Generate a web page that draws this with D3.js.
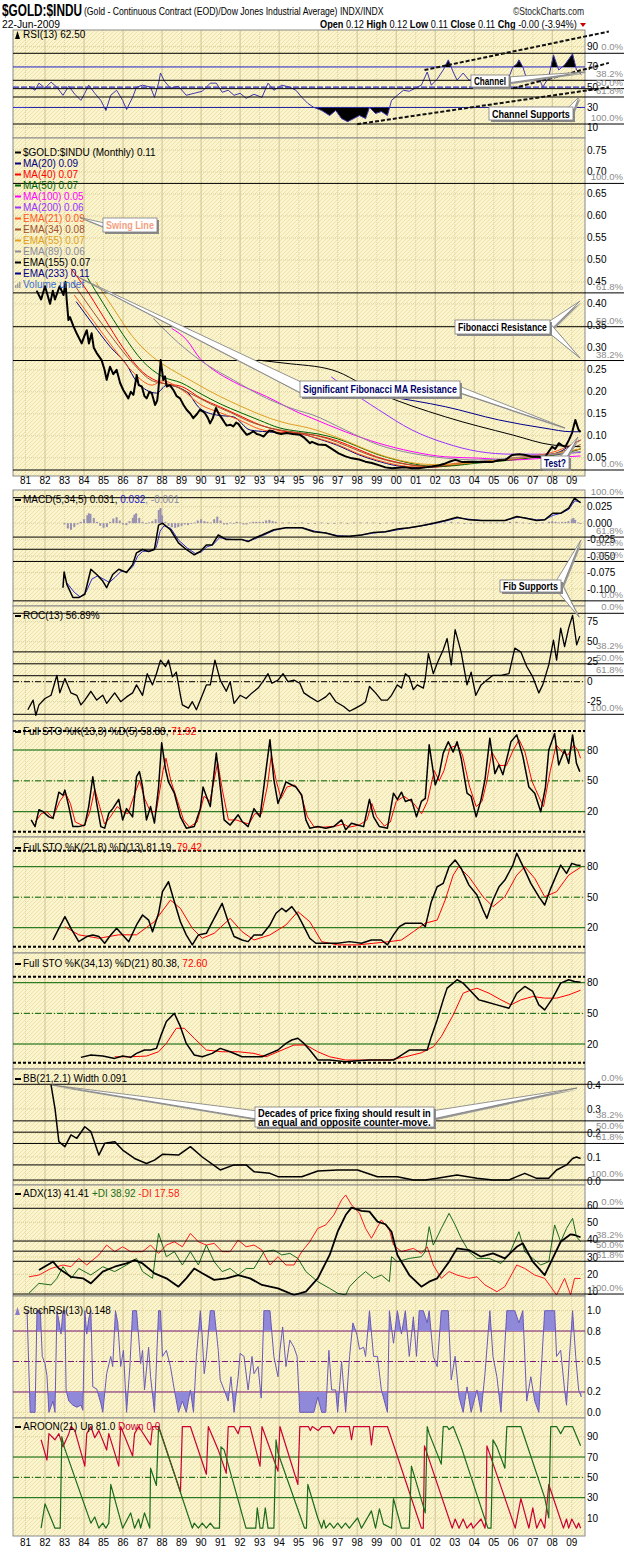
<!DOCTYPE html>
<html><head><meta charset="utf-8">
<script src="https://cdn.jsdelivr.net/npm/d3@7"></script>
<style>body{margin:0;background:#fff}svg{display:block}text{font-family:"Liberation Sans",Arial,sans-serif}</style>
</head><body><svg id="c" width="624" height="1552"></svg>
<script>
// ---------------- DATA ----------------
const yearTicks = [1981,1982,1983,1984,1985,1986,1987,1988,1989,1990,1991,1992,1993,1994,1995,1996,1997,1998,1999,2000,2001,2002,2003,2004,2005,2006,2007,2008,2009];
const yearLabels = ["81","82","83","84","85","86","87","88","89","90","91","92","93","94","95","96","97","98","99","00","01","02","03","04","05","06","07","08","09"];

const rsi13 = [[1981.18,51],[1981.49,47],[1981.69,54],[1982.0,49],[1982.31,55],[1982.61,50],[1982.92,42],[1983.22,51],[1983.53,43],[1983.84,37],[1984.04,44],[1984.24,52],[1984.55,44],[1984.86,37],[1985.12,27],[1985.37,42],[1985.67,47],[1985.98,37],[1986.18,28],[1986.49,40],[1986.69,50],[1987.0,52],[1987.41,50],[1987.61,40],[1987.82,54],[1987.92,64],[1988.12,56],[1988.43,49],[1988.84,51],[1989.24,42],[1989.65,44],[1990.06,46],[1990.47,54],[1990.78,54],[1991.08,45],[1991.39,47],[1991.69,42],[1992.0,44],[1992.31,39],[1992.71,43],[1993.12,40],[1993.43,54],[1993.73,47],[1994.14,52],[1994.55,50],[1994.86,47],[1995.16,40],[1995.47,34],[1995.78,30],[1996.18,27],[1996.59,22],[1996.9,27],[1997.2,19],[1997.51,16],[1997.82,19],[1998.12,22],[1998.43,19],[1998.63,30],[1998.94,24],[1999.24,26],[1999.55,22],[1999.76,37],[2000.06,42],[2000.37,47],[2000.67,46],[2000.98,49],[2001.29,52],[2001.59,65],[2001.8,52],[2002.1,58],[2002.41,67],[2002.67,77],[2002.92,65],[2003.12,57],[2003.43,64],[2003.73,57],[2004.14,58],[2004.55,54],[2004.96,58],[2005.37,57],[2005.78,60],[2005.98,70],[2006.18,73],[2006.29,77],[2006.49,70],[2006.69,58],[2007.0,56],[2007.31,60],[2007.51,50],[2007.82,60],[2008.06,82],[2008.33,67],[2008.63,72],[2009.04,83],[2009.24,67],[2009.49,62.5]];

const price = [[1981.57,0.43],[1981.8,0.41],[1982.0,0.44],[1982.26,0.40],[1982.4,0.43],[1982.51,0.41],[1982.75,0.44],[1982.95,0.42],[1983.05,0.45],[1983.11,0.41],[1983.2,0.363],[1983.28,0.37],[1983.45,0.35],[1983.62,0.333],[1983.88,0.31],[1984.0,0.325],[1984.14,0.34],[1984.25,0.31],[1984.39,0.333],[1984.5,0.30],[1984.65,0.288],[1984.9,0.272],[1985.05,0.25],[1985.16,0.227],[1985.33,0.257],[1985.5,0.24],[1985.67,0.25],[1985.85,0.22],[1986.01,0.204],[1986.27,0.185],[1986.4,0.2],[1986.53,0.193],[1986.7,0.238],[1986.8,0.215],[1986.96,0.212],[1987.1,0.19],[1987.21,0.185],[1987.35,0.2],[1987.47,0.197],[1987.64,0.17],[1987.75,0.18],[1987.81,0.204],[1987.93,0.272],[1988.06,0.227],[1988.15,0.235],[1988.24,0.212],[1988.4,0.215],[1988.58,0.204],[1988.75,0.19],[1988.92,0.185],[1989.1,0.17],[1989.26,0.159],[1989.45,0.15],[1989.6,0.14],[1989.8,0.15],[1989.94,0.159],[1990.1,0.155],[1990.2,0.151],[1990.35,0.14],[1990.46,0.128],[1990.6,0.14],[1990.76,0.163],[1990.9,0.15],[1991.06,0.14],[1991.2,0.13],[1991.31,0.123],[1991.5,0.125],[1991.65,0.121],[1991.8,0.13],[1991.91,0.127],[1992.1,0.115],[1992.34,0.102],[1992.5,0.105],[1992.68,0.11],[1992.85,0.104],[1993.02,0.102],[1993.2,0.098],[1993.36,0.106],[1993.5,0.112],[1993.7,0.11],[1993.88,0.106],[1994.1,0.104],[1994.39,0.106],[1994.7,0.104],[1995.07,0.102],[1995.3,0.095],[1995.58,0.083],[1995.68,0.086],[1996.0,0.08],[1996.37,0.079],[1996.7,0.07],[1997.05,0.06],[1997.4,0.053],[1997.73,0.0485],[1998.1,0.046],[1998.42,0.041],[1998.75,0.038],[1999.1,0.033],[1999.45,0.028],[1999.79,0.026],[2000.1,0.027],[2000.47,0.028],[2000.8,0.026],[2001.15,0.026],[2001.5,0.028],[2001.84,0.03],[2002.2,0.033],[2002.52,0.037],[2002.8,0.042],[2003.03,0.045],[2003.4,0.04],[2003.89,0.041],[2004.2,0.04],[2004.57,0.041],[2004.9,0.04],[2005.25,0.044],[2005.6,0.045],[2005.94,0.056],[2006.3,0.058],[2006.62,0.056],[2006.95,0.052],[2007.3,0.052],[2007.6,0.05],[2007.99,0.075],[2008.15,0.07],[2008.33,0.083],[2008.5,0.078],[2008.67,0.075],[2008.85,0.09],[2009.01,0.106],[2009.18,0.136],[2009.35,0.113],[2009.45,0.109]];

const ma20 = [[1983.6,0.405],[1984.48,0.352],[1985.33,0.303],[1986.19,0.261],[1986.7,0.223],[1987.72,0.197],[1988.24,0.215],[1989.26,0.20],[1989.94,0.162],[1990.8,0.147],[1991.65,0.143],[1992.51,0.113],[1993.36,0.109],[1994.21,0.106],[1995.07,0.104],[1996.0,0.093],[1997.0,0.078],[1998.0,0.058],[1999.0,0.043],[2000.0,0.032],[2001.0,0.028],[2002.0,0.029],[2003.0,0.036],[2004.0,0.041],[2005.0,0.042],[2006.0,0.047],[2007.0,0.054],[2008.0,0.058],[2008.5,0.066],[2009.0,0.08],[2009.45,0.09]];
const ema21 = [[1983.5,0.42],[1984.5,0.36],[1985.5,0.30],[1986.5,0.245],[1987.5,0.215],[1988.0,0.225],[1989.0,0.205],[1990.0,0.17],[1991.0,0.152],[1992.0,0.135],[1993.0,0.115],[1994.0,0.108],[1995.0,0.105],[1996.0,0.094],[1997.0,0.08],[1998.0,0.06],[1999.0,0.045],[2000.0,0.034],[2001.0,0.029],[2002.0,0.031],[2003.0,0.037],[2004.0,0.041],[2005.0,0.043],[2006.0,0.05],[2007.0,0.054],[2008.0,0.062],[2009.0,0.08],[2009.45,0.09]];
const ema34 = [[1983.4,0.45],[1984.5,0.38],[1985.5,0.32],[1986.5,0.265],[1987.5,0.225],[1988.5,0.215],[1989.5,0.195],[1990.5,0.172],[1991.5,0.153],[1992.5,0.132],[1993.5,0.118],[1994.5,0.11],[1995.5,0.104],[1996.5,0.093],[1997.5,0.076],[1998.5,0.058],[1999.5,0.044],[2000.5,0.035],[2001.5,0.031],[2002.5,0.032],[2003.5,0.037],[2004.5,0.041],[2005.5,0.044],[2006.5,0.05],[2007.5,0.054],[2008.5,0.064],[2009.45,0.08]];
const ma40 = [[1983.33,0.48],[1984.0,0.44],[1985.0,0.37],[1986.0,0.30],[1987.0,0.245],[1988.0,0.22],[1989.0,0.212],[1990.0,0.185],[1991.0,0.165],[1992.0,0.145],[1993.0,0.125],[1994.0,0.112],[1995.0,0.106],[1996.0,0.1],[1997.0,0.088],[1998.0,0.07],[1999.0,0.052],[2000.0,0.04],[2001.0,0.032],[2002.0,0.029],[2003.0,0.033],[2004.0,0.039],[2005.0,0.042],[2006.0,0.046],[2007.0,0.052],[2008.0,0.056],[2009.0,0.065],[2009.45,0.07]];
const ma50 = [[1984.17,0.46],[1985.0,0.40],[1986.0,0.33],[1987.0,0.27],[1988.0,0.235],[1989.0,0.22],[1990.0,0.195],[1991.0,0.172],[1992.0,0.153],[1993.0,0.135],[1994.0,0.118],[1995.0,0.11],[1996.0,0.104],[1997.0,0.093],[1998.0,0.076],[1999.0,0.058],[2000.0,0.045],[2001.0,0.035],[2002.0,0.03],[2003.0,0.032],[2004.0,0.037],[2005.0,0.041],[2006.0,0.045],[2007.0,0.05],[2008.0,0.055],[2009.0,0.064],[2009.45,0.07]];
const ema55 = [[1984.6,0.45],[1985.5,0.39],[1986.5,0.325],[1987.5,0.28],[1988.5,0.25],[1989.5,0.225],[1990.5,0.2],[1991.5,0.178],[1992.5,0.158],[1993.5,0.14],[1994.5,0.127],[1995.5,0.118],[1996.5,0.104],[1997.5,0.087],[1998.5,0.068],[1999.5,0.052],[2000.5,0.041],[2001.5,0.035],[2002.5,0.034],[2003.5,0.037],[2004.5,0.041],[2005.5,0.045],[2006.5,0.05],[2007.5,0.054],[2008.5,0.062],[2009.45,0.07]];
const ema89 = [[1987.55,0.367],[1988.5,0.325],[1989.94,0.272],[1991.65,0.227],[1993.36,0.185],[1995.0,0.157],[1995.68,0.148],[1997.39,0.113],[1999.1,0.079],[2000.8,0.06],[2002.52,0.049],[2004.23,0.045],[2005.94,0.049],[2007.63,0.056],[2009.45,0.064]];
const ma100 = [[1988.49,0.344],[1989.26,0.318],[1989.94,0.276],[1990.63,0.25],[1991.65,0.223],[1993.36,0.189],[1995.07,0.151],[1995.68,0.14],[1997.39,0.109],[1999.1,0.083],[2000.81,0.064],[2002.52,0.052],[2004.23,0.049],[2005.94,0.045],[2007.63,0.049],[2009.45,0.054]];
const ma200 = [[1996.67,0.234],[1997.39,0.21],[1999.1,0.159],[2000.81,0.113],[2002.52,0.083],[2004.23,0.064],[2005.94,0.058],[2007.63,0.058],[2009.45,0.062]];
const ema155 = [[1992.92,0.272],[1994.3,0.265],[1996.7,0.25],[1999.1,0.197],[2002.52,0.143],[2005.94,0.102],[2007.99,0.079],[2009.45,0.075]];
const ema233 = [[1999.45,0.19],[2002.52,0.166],[2005.25,0.136],[2007.63,0.117],[2009.0,0.109],[2009.45,0.109]];

const macdLine = [[1982.92,-0.098],[1982.98,-0.074],[1983.12,-0.093],[1983.43,-0.113],[1983.73,-0.113],[1984.04,-0.108],[1984.35,-0.070],[1984.65,-0.078],[1984.96,-0.088],[1985.16,-0.098],[1985.47,-0.078],[1985.78,-0.070],[1986.18,-0.075],[1986.49,-0.063],[1986.69,-0.045],[1987.0,-0.040],[1987.31,-0.043],[1987.61,-0.040],[1987.82,-0.003],[1988.02,0.0],[1988.43,-0.010],[1988.84,-0.030],[1989.24,-0.040],[1989.65,-0.048],[1989.96,-0.043],[1990.27,-0.033],[1990.57,-0.033],[1990.88,-0.018],[1991.29,-0.025],[1991.69,-0.025],[1992.1,-0.025],[1992.41,-0.028],[1992.71,-0.023],[1993.12,-0.018],[1993.73,-0.010],[1994.35,-0.007],[1995.16,-0.007],[1995.78,-0.013],[1996.39,-0.015],[1997.0,-0.020],[1997.61,-0.020],[1998.22,-0.018],[1998.84,-0.014],[1999.45,-0.013],[2000.06,-0.009],[2000.67,-0.007],[2001.29,-0.004],[2001.9,0.0],[2002.51,0.004],[2003.12,0.009],[2003.73,0.005],[2004.35,0.004],[2004.96,0.004],[2005.57,0.004],[2006.18,0.010],[2006.59,0.008],[2007.2,0.004],[2007.61,0.005],[2008.02,0.015],[2008.43,0.015],[2008.84,0.023],[2009.14,0.038],[2009.45,0.031]];
const macdSignal = [[1983.1,-0.09],[1983.5,-0.105],[1983.8,-0.112],[1984.1,-0.105],[1984.4,-0.085],[1984.7,-0.08],[1985.0,-0.085],[1985.3,-0.09],[1985.6,-0.082],[1985.9,-0.073],[1986.2,-0.074],[1986.5,-0.066],[1986.75,-0.05],[1987.0,-0.043],[1987.4,-0.042],[1987.7,-0.037],[1987.9,-0.012],[1988.1,-0.004],[1988.45,-0.008],[1988.85,-0.026],[1989.3,-0.038],[1989.7,-0.046],[1990.0,-0.044],[1990.3,-0.036],[1990.6,-0.033],[1990.95,-0.022],[1991.3,-0.024],[1991.7,-0.025],[1992.1,-0.025],[1992.45,-0.027],[1992.75,-0.024],[1993.15,-0.019],[1993.75,-0.011],[1994.35,-0.007],[1995.2,-0.007],[1995.8,-0.012],[1996.4,-0.015],[1997.0,-0.019],[1997.6,-0.020],[1998.2,-0.018],[1998.85,-0.015],[1999.5,-0.013],[2000.1,-0.010],[2000.7,-0.007],[2001.3,-0.004],[2001.9,-0.001],[2002.5,0.003],[2003.15,0.008],[2003.75,0.006],[2004.4,0.004],[2005.0,0.004],[2005.6,0.004],[2006.2,0.009],[2006.6,0.008],[2007.2,0.005],[2007.6,0.005],[2008.05,0.012],[2008.45,0.015],[2008.85,0.021],[2009.15,0.034],[2009.45,0.032]];
const macdHist = [[1983.0,-0.002],[1983.17,-0.008],[1983.33,-0.01],[1983.5,-0.006],[1983.67,-0.002],[1983.83,0.002],[1984.0,0.006],[1984.17,0.012],[1984.25,0.015],[1984.33,0.014],[1984.5,0.008],[1984.67,0.002],[1984.83,-0.004],[1985.0,-0.007],[1985.17,-0.006],[1985.33,0.002],[1985.5,0.007],[1985.67,0.009],[1985.83,0.004],[1986.0,-0.002],[1986.17,-0.003],[1986.33,0.003],[1986.5,0.008],[1986.58,0.013],[1986.67,0.015],[1986.83,0.008],[1987.0,0.002],[1987.17,-0.001],[1987.33,0.001],[1987.5,0.003],[1987.67,0.006],[1987.83,0.02],[1987.92,0.023],[1988.0,0.012],[1988.17,0.002],[1988.33,-0.004],[1988.5,-0.006],[1988.67,-0.007],[1988.83,-0.006],[1989.0,-0.004],[1989.17,-0.002],[1989.33,-0.003],[1989.5,-0.001],[1989.67,0.001],[1989.83,0.004],[1990.0,0.006],[1990.17,0.003],[1990.33,0.002],[1990.5,0.001],[1990.67,0.006],[1990.83,0.01],[1991.0,0.004],[1991.17,-0.002],[1991.33,-0.002],[1991.5,0.001],[1991.67,-0.001],[1991.83,0.002],[1992.0,0.001],[1992.17,-0.002],[1992.33,-0.002],[1992.5,0.001],[1992.67,0.002],[1992.83,0.002],[1993.0,0.002],[1993.17,0.002],[1993.33,0.004],[1993.5,0.005],[1993.67,0.003],[1993.83,0.002],[1994.17,0.001],[1994.5,0.001],[1994.83,-0.001],[1995.17,0.001],[1995.5,-0.001],[1995.83,-0.001],[1996.17,0.001],[1996.5,-0.001],[1996.83,-0.001],[1997.17,0.001],[1997.5,-0.001],[1997.83,0.001],[1998.17,0.001],[1998.5,0.001],[1998.83,0.001],[1999.17,-0.001],[1999.5,0.001],[1999.83,0.001],[2000.17,0.001],[2000.5,0.001],[2000.83,0.001],[2001.17,0.001],[2001.5,0.001],[2001.83,0.001],[2002.17,0.001],[2002.5,0.001],[2002.83,0.002],[2003.17,0.001],[2003.5,-0.001],[2003.83,-0.001],[2004.17,0.001],[2004.5,0.001],[2004.83,0.001],[2005.17,0.001],[2005.5,0.001],[2005.83,0.002],[2006.17,0.002],[2006.5,0.001],[2006.83,-0.001],[2007.17,-0.001],[2007.5,0.001],[2007.83,0.002],[2008.0,0.003],[2008.17,0.002],[2008.33,0.001],[2008.5,0.002],[2008.67,0.002],[2008.83,0.003],[2009.0,0.006],[2009.08,0.008],[2009.17,0.005],[2009.33,0.001],[2009.45,-0.001]];

const roc13 = [[1981.12,-35],[1981.39,-23],[1981.53,-42],[1981.69,-29],[1982.0,-21],[1982.31,-17],[1982.61,8],[1982.76,-14],[1983.02,4],[1983.33,-14],[1983.63,-17],[1983.84,-29],[1984.04,-23],[1984.35,-12],[1984.65,-23],[1984.96,-17],[1985.16,-27],[1985.57,-14],[1985.88,-25],[1986.18,-19],[1986.49,-14],[1986.69,-4],[1987.0,-17],[1987.24,10],[1987.51,-4],[1987.71,10],[1987.92,27],[1988.18,19],[1988.33,27],[1988.53,6],[1988.73,12],[1988.94,-17],[1989.04,-29],[1989.35,-33],[1989.55,-25],[1989.76,-35],[1990.06,-17],[1990.27,-4],[1990.47,-4],[1990.71,27],[1990.98,2],[1991.29,-12],[1991.49,0],[1991.69,-27],[1992.0,-17],[1992.31,-21],[1992.61,-14],[1992.92,-8],[1993.22,2],[1993.43,10],[1993.63,-2],[1993.94,2],[1994.2,10],[1994.45,0],[1994.76,2],[1995.06,-2],[1995.27,-14],[1995.57,-19],[1995.98,-25],[1996.39,-19],[1996.59,-14],[1996.9,-25],[1997.31,-31],[1997.61,-37],[1997.92,-33],[1998.22,-29],[1998.43,-25],[1998.63,-6],[1998.94,-14],[1999.24,-23],[1999.55,-23],[1999.76,-17],[2000.06,-4],[2000.27,-8],[2000.47,10],[2000.67,6],[2000.88,-10],[2001.08,-4],[2001.39,-8],[2001.49,4],[2001.65,35],[2001.9,10],[2002.1,23],[2002.41,40],[2002.61,54],[2002.82,21],[2003.02,65],[2003.33,37],[2003.63,-4],[2003.84,12],[2004.08,-17],[2004.35,-4],[2004.65,2],[2004.96,8],[2005.37,8],[2005.78,10],[2006.08,42],[2006.39,37],[2006.69,19],[2007.0,6],[2007.31,-14],[2007.51,-4],[2007.82,21],[2008.06,52],[2008.22,27],[2008.43,67],[2008.63,44],[2008.84,67],[2009.04,83],[2009.25,46],[2009.41,57]];

const sto1K = [[1981.29,12],[1981.49,5.5],[1981.69,22],[1981.9,20],[1982.2,15],[1982.41,13.5],[1982.71,39],[1982.92,36],[1983.02,41],[1983.22,25],[1983.43,5.5],[1983.73,5.5],[1984.04,7],[1984.24,25],[1984.45,54],[1984.65,28],[1984.86,5.5],[1985.06,4],[1985.27,18.5],[1985.47,23],[1985.78,32],[1985.98,12],[1986.18,23],[1986.49,15],[1986.69,54],[1986.84,59],[1987.0,44],[1987.2,12],[1987.41,25],[1987.61,9],[1987.82,44],[1987.98,87],[1988.18,61],[1988.33,49],[1988.63,38],[1988.94,15],[1989.24,4],[1989.65,5.5],[1989.96,23],[1990.1,44],[1990.27,35],[1990.47,25],[1990.78,77],[1990.98,44],[1991.18,12],[1991.49,7],[1991.9,17],[1992.1,10.5],[1992.41,5.5],[1992.71,23],[1993.02,15],[1993.33,61],[1993.53,90],[1993.73,51],[1993.94,28],[1994.14,38],[1994.35,49],[1994.65,46],[1994.86,44],[1995.16,36],[1995.37,12],[1995.57,4],[1995.98,5.5],[1996.39,4],[1996.8,5.5],[1997.2,12],[1997.41,2.4],[1997.71,8.8],[1998.02,7],[1998.33,5.5],[1998.63,32],[1998.84,15],[1999.14,5.5],[1999.55,4],[1999.86,38],[2000.06,32],[2000.27,39],[2000.47,30],[2000.78,32],[2001.04,15],[2001.29,30],[2001.49,33],[2001.69,85],[2002.0,46],[2002.2,56],[2002.41,77],[2002.67,88],[2002.92,78],[2003.12,88],[2003.33,72],[2003.63,38],[2003.84,35],[2004.1,15],[2004.35,32],[2004.55,51],[2004.8,91.5],[2005.06,57],[2005.27,65.5],[2005.47,56],[2005.88,88],[2006.18,94.7],[2006.49,74],[2006.8,44],[2007.1,38],[2007.41,20],[2007.65,44],[2007.82,80],[2008.12,96],[2008.33,65.5],[2008.63,80],[2008.84,67],[2009.04,94.7],[2009.24,67],[2009.41,59]];
const sto1D = [[1981.5,10],[1981.8,18],[1982.1,20],[1982.4,14],[1982.75,30],[1983.05,38],[1983.3,28],[1983.55,10],[1984.0,6],[1984.3,20],[1984.55,42],[1984.8,25],[1985.05,8],[1985.35,15],[1985.7,25],[1986.0,20],[1986.25,18],[1986.55,35],[1986.85,50],[1987.1,33],[1987.4,20],[1987.7,20],[1988.05,60],[1988.2,72],[1988.45,50],[1988.8,30],[1989.1,12],[1989.4,5],[1989.8,10],[1990.15,35],[1990.45,30],[1990.85,68],[1991.1,40],[1991.4,12],[1991.8,12],[1992.1,10],[1992.45,8],[1992.75,18],[1993.1,18],[1993.4,45],[1993.6,75],[1993.85,50],[1994.1,33],[1994.4,44],[1994.8,46],[1995.1,38],[1995.45,15],[1995.8,5],[1996.3,5],[1996.9,6],[1997.3,8],[1997.6,5],[1998.1,7],[1998.5,12],[1998.75,28],[1999.0,15],[1999.4,6],[1999.7,10],[2000.0,30],[2000.4,35],[2000.9,28],[2001.3,18],[2001.6,30],[2001.95,60],[2002.2,50],[2002.45,60],[2002.75,82],[2003.15,85],[2003.4,75],[2003.75,45],[2004.1,25],[2004.4,30],[2004.65,50],[2004.9,78],[2005.3,65],[2005.65,65],[2006.0,80],[2006.3,90],[2006.6,78],[2006.95,50],[2007.3,35],[2007.55,25],[2007.9,60],[2008.2,85],[2008.5,78],[2008.8,75],[2009.1,85],[2009.3,80],[2009.45,72]];

const sto2K = [[1982.41,7.9],[1982.71,19.4],[1983.02,30.8],[1983.33,19.4],[1983.73,6.3],[1984.14,11.3],[1984.45,12.9],[1984.76,11.3],[1985.06,4.7],[1985.37,12.9],[1985.67,19.4],[1985.98,12.9],[1986.29,6.3],[1986.69,22.7],[1987.0,32.5],[1987.31,27.5],[1987.51,16.1],[1987.82,34.2],[1988.02,55.4],[1988.33,65.2],[1988.63,45.6],[1988.94,25.9],[1989.24,12.9],[1989.55,3.1],[1989.86,12.9],[1990.27,14.5],[1990.67,29.2],[1991.08,43.9],[1991.39,25.9],[1991.69,11.3],[1992.1,7.9],[1992.41,6.3],[1992.71,12.9],[1993.12,12.9],[1993.53,22.7],[1993.84,34.2],[1994.14,39.1],[1994.35,35.8],[1994.65,40.7],[1994.96,32.5],[1995.27,21.1],[1995.57,9.6],[1995.88,4.7],[1996.39,4.7],[1997.0,4.7],[1997.61,6.3],[1998.22,4.7],[1998.73,7.9],[1999.24,7.9],[1999.55,3.1],[1999.86,12.9],[2000.16,21.1],[2000.47,24.4],[2000.88,24.4],[2001.29,24.4],[2001.49,21.1],[2001.8,45.6],[2002.1,60.3],[2002.41,63.6],[2002.71,80],[2003.02,86.6],[2003.33,78.4],[2003.73,61.9],[2004.14,52.1],[2004.45,37.4],[2004.65,29.2],[2004.96,47.2],[2005.27,60.3],[2005.57,66.8],[2005.98,81.6],[2006.18,93.1],[2006.59,76.7],[2006.9,63.6],[2007.31,50.5],[2007.61,42.3],[2007.92,58.7],[2008.43,81.6],[2008.73,73.4],[2009.0,83.3],[2009.24,81.6],[2009.45,81.2]];
const sto2D = [[1983.02,21],[1983.73,13],[1984.76,9.6],[1985.78,13],[1986.69,13],[1987.61,26],[1988.43,47.2],[1988.94,39],[1989.55,19.4],[1990.06,9.6],[1990.67,14.5],[1991.49,29.2],[1992.1,16.1],[1992.71,7.9],[1993.53,12.9],[1994.35,22.7],[1994.96,35.8],[1995.57,25.9],[1996.18,6.3],[1997.0,3.1],[1998.02,3.1],[1998.84,4.7],[1999.65,6.3],[2000.27,7.9],[2000.88,16.1],[2001.49,24.4],[2002.1,27.5],[2002.51,47.2],[2002.92,71.7],[2003.2,80],[2003.73,70],[2004.45,50.5],[2004.96,40.7],[2005.57,50.5],[2006.18,71.7],[2006.59,80],[2007.1,68.5],[2007.61,50.5],[2008.22,55.4],[2008.84,71.7],[2009.45,79.4]];

const sto3K = [[1983.84,6.9],[1984.35,9.2],[1984.96,8.2],[1985.57,5.9],[1985.98,8.2],[1986.39,6.9],[1986.69,10.8],[1987.1,14.1],[1987.41,14.1],[1987.71,15.7],[1987.92,27.2],[1988.22,42],[1988.63,50],[1988.94,37],[1989.24,20.6],[1989.65,9.2],[1990.06,7.5],[1990.57,10.8],[1990.98,15.7],[1991.49,12.4],[1992.1,7.5],[1992.71,7.5],[1993.12,7.5],[1993.53,10.8],[1993.94,14.1],[1994.35,20.6],[1994.65,23.9],[1994.96,25.6],[1995.27,20.6],[1995.57,14.1],[1995.98,4.3],[1996.59,4.3],[1997.41,2.6],[1998.02,3.6],[1998.63,4.3],[1999.24,4.3],[1999.86,4.3],[2000.27,9.2],[2000.67,14.1],[2001.29,14.1],[2001.59,14.1],[2001.8,27.2],[2002.1,43.6],[2002.41,63.2],[2002.61,74.7],[2002.92,79.6],[2003.12,82.9],[2003.43,79.6],[2003.84,71.4],[2004.24,63.2],[2004.55,61.6],[2005.16,58.3],[2005.78,55],[2006.18,69.7],[2006.59,76.3],[2007.0,71.4],[2007.31,58.3],[2007.61,53.4],[2008.02,64.9],[2008.43,79.6],[2008.84,82.9],[2009.14,81.2],[2009.45,80.4]];
const sto3D = [[1985.57,7.5],[1986.39,7.5],[1987.2,8.2],[1987.82,12.4],[1988.22,20.6],[1988.73,35.4],[1989.14,35.4],[1989.65,25.6],[1990.27,14.1],[1991.08,12.4],[1991.9,12.4],[1992.71,10.8],[1993.33,7.5],[1993.94,12.4],[1994.76,19],[1995.37,19],[1995.98,12.4],[1996.59,7.5],[1997.41,4.3],[1998.43,4.3],[1999.65,4.3],[2000.47,7.5],[2001.29,11.4],[2001.9,17.3],[2002.31,27.2],[2002.92,48.4],[2003.43,69.7],[2003.84,72.9],[2004.14,74.6],[2004.76,69.7],[2005.37,63.2],[2005.88,58.3],[2006.39,63.2],[2007.0,66.5],[2007.61,64.9],[2008.22,64.9],[2008.84,68.1],[2009.45,72.6]];

const bbWidth = [[1982.31,0.40],[1982.51,0.303],[1982.71,0.164],[1983.02,0.143],[1983.33,0.192],[1983.63,0.178],[1984.04,0.226],[1984.35,0.206],[1984.76,0.108],[1985.06,0.157],[1985.57,0.164],[1985.98,0.129],[1986.59,0.094],[1987.2,0.073],[1987.61,0.087],[1988.02,0.111],[1988.84,0.108],[1989.45,0.143],[1990.06,0.10],[1990.98,0.046],[1991.69,0.067],[1992.31,0.067],[1992.71,0.039],[1993.53,0.032],[1993.94,0.018],[1995.16,0.018],[1995.98,0.042],[1997.0,0.046],[1998.02,0.046],[1999.04,0.018],[2000.06,0.018],[2000.88,0.004],[2001.49,0.004],[2002.1,0.011],[2003.12,0.025],[2004.14,0.011],[2004.96,0.004],[2005.78,0.004],[2006.18,0.018],[2006.59,0.032],[2007.2,0.011],[2007.82,0.011],[2008.22,0.046],[2008.73,0.067],[2009.04,0.094],[2009.24,0.10],[2009.45,0.094]];

const adx13 = [[1981.69,22.5],[1982.41,27.3],[1982.71,23.4],[1983.33,18.6],[1983.94,17.7],[1984.35,14.8],[1984.96,21.6],[1985.57,24.4],[1986.18,26.3],[1986.59,28.2],[1987.0,26.3],[1987.61,20.6],[1988.22,17.7],[1988.84,12.9],[1989.24,17.7],[1989.65,23.4],[1990.06,20.6],[1990.67,16.8],[1991.29,17.7],[1991.9,19.6],[1992.51,17.7],[1993.12,13.9],[1993.94,11.9],[1994.76,8.1],[1995.37,10],[1995.98,17.7],[1996.59,31.2],[1997.0,44.6],[1997.41,54.2],[1997.71,58.5],[1998.22,56.6],[1998.63,56.2],[1999.04,50.4],[1999.45,48.9],[1999.76,44.6],[2000.06,31.2],[2000.67,19.6],[2001.29,12.9],[2001.69,15.8],[2002.1,17.7],[2002.71,27.3],[2003.12,35],[2003.73,34],[2004.35,30.2],[2004.96,32.1],[2005.57,29.2],[2006.18,35.9],[2006.49,37.9],[2007.0,27.3],[2007.61,19.6],[2008.02,29.2],[2008.43,38.8],[2008.94,43.1],[2009.14,42.7],[2009.45,41.4]];
const plusDI = [[1981.18,9.1],[1981.69,14.8],[1982.31,13.9],[1982.61,17.7],[1982.92,24.4],[1983.33,17.7],[1983.73,23.4],[1984.35,19.6],[1984.96,24.4],[1985.57,21.6],[1986.18,25.4],[1986.69,29.2],[1987.0,21.6],[1987.51,17.7],[1987.82,43.6],[1988.22,30.2],[1988.63,33.1],[1989.04,25.4],[1989.45,33.1],[1989.86,25.4],[1990.27,36.9],[1990.67,27.3],[1991.08,21.6],[1991.49,23.4],[1991.9,19.6],[1992.31,23.4],[1992.71,23.4],[1993.22,33.1],[1993.73,34],[1994.14,31.2],[1994.55,32.1],[1994.96,29.2],[1995.37,21.6],[1995.98,15.8],[1996.59,11.9],[1997.0,9.1],[1997.41,8.1],[1997.61,12.9],[1998.02,17.7],[1998.43,21.6],[1998.84,17.7],[1999.24,19.6],[1999.65,15.8],[1999.76,30.2],[2000.06,27.3],[2000.67,29.2],[2001.29,30.2],[2001.49,33.1],[2001.69,47.5],[2001.9,36.9],[2002.31,46.5],[2002.71,55.2],[2003.02,48.5],[2003.33,40.8],[2003.73,33.1],[2004.14,29.2],[2004.76,29.2],[2005.37,26.3],[2005.78,31.2],[2006.29,44.6],[2006.59,33.1],[2007.0,29.2],[2007.41,25.4],[2007.82,27.3],[2008.12,48.5],[2008.43,38.8],[2008.73,46.5],[2009.04,52.3],[2009.24,41.7],[2009.45,38.9]];
const minusDI = [[1981.18,18.6],[1981.69,19.6],[1982.31,23.4],[1982.92,25.4],[1983.33,24.4],[1983.73,29.2],[1984.14,25.4],[1984.76,31.2],[1985.16,36.9],[1985.57,33.1],[1985.98,35.9],[1986.39,33.1],[1987.0,33.1],[1987.41,36.9],[1987.82,32.1],[1988.22,36.9],[1988.63,38.8],[1989.04,35.9],[1989.45,43.6],[1989.86,38.8],[1990.27,36.9],[1990.67,37.9],[1991.08,33.1],[1991.49,33.1],[1991.9,39.8],[1992.31,35.9],[1992.71,36.9],[1993.12,34],[1993.53,25.4],[1993.94,30.2],[1994.35,25.4],[1994.76,25.4],[1995.16,33.1],[1995.57,38.8],[1995.98,46.5],[1996.39,48.5],[1996.8,54.2],[1997.2,62.9],[1997.41,65.8],[1997.71,60.1],[1998.12,55.2],[1998.43,46.5],[1998.73,40.8],[1999.24,51.4],[1999.65,45.6],[1999.86,36.9],[2000.27,33.1],[2000.88,35],[2001.29,32.1],[2001.59,35.9],[2001.9,25.4],[2002.31,17.7],[2002.71,21.6],[2003.12,19.6],[2003.73,17.7],[2004.14,18.6],[2004.55,13.9],[2005.16,10],[2005.57,12.9],[2006.18,25.4],[2006.59,23.4],[2007.1,19.6],[2007.61,17.7],[2007.92,12.9],[2008.22,8.1],[2008.63,17.7],[2008.94,8.1],[2009.14,17.7],[2009.45,17.6]];

const stochRsi = [[1981.08,1.0],[1981.24,0],[1981.49,0],[1981.59,1.0],[1981.76,1.0],[1981.86,0.55],[1982.0,0.48],[1982.1,0.36],[1982.2,0],[1982.41,0.11],[1982.51,0],[1982.61,1.0],[1982.71,0.9],[1982.82,0.77],[1982.92,1.0],[1983.02,1.0],[1983.08,0.22],[1983.22,0.11],[1983.43,0.07],[1983.63,0.05],[1983.84,0.07],[1983.94,0.02],[1984.04,1.0],[1984.14,0.77],[1984.24,0.92],[1984.35,1.0],[1984.45,0.25],[1984.65,0.23],[1984.86,0.09],[1984.96,0],[1985.16,0.38],[1985.37,0.55],[1985.47,0.45],[1985.61,1.0],[1985.73,0.88],[1985.88,0.45],[1986.02,0.61],[1986.18,0],[1986.35,0.45],[1986.49,1.0],[1986.69,1.0],[1986.8,0.74],[1986.9,0.48],[1987.0,0.61],[1987.1,0.22],[1987.31,0.64],[1987.41,0.35],[1987.61,0],[1987.82,1.0],[1987.92,1.0],[1988.02,0.55],[1988.22,0.61],[1988.43,0.45],[1988.63,0.22],[1988.84,0],[1989.04,0.11],[1989.24,0],[1989.45,0.22],[1989.61,0],[1989.76,0.55],[1989.96,1.0],[1990.06,0.74],[1990.16,0.38],[1990.27,0.55],[1990.47,1.0],[1990.67,1.0],[1990.88,0.61],[1990.98,0.32],[1991.18,0.22],[1991.39,0.11],[1991.53,0.35],[1991.69,0],[1991.9,0.35],[1992.0,0.58],[1992.2,0.55],[1992.41,0.22],[1992.61,0.55],[1992.71,0.38],[1992.92,0.45],[1993.08,0.14],[1993.22,1.0],[1993.53,1.0],[1993.73,0.55],[1993.94,0.35],[1994.04,0.61],[1994.18,0.84],[1994.35,0.45],[1994.55,0.71],[1994.76,0.64],[1994.92,0.55],[1995.06,0],[1995.78,0],[1995.98,0.15],[1996.18,0],[1996.39,0],[1996.55,0.61],[1996.69,0.22],[1996.9,0.22],[1997.0,0],[1997.2,0.5],[1997.41,0],[1997.61,0.55],[1997.78,0.88],[1997.98,0.77],[1998.12,0.62],[1998.33,0.64],[1998.43,0.55],[1998.63,1.0],[1998.84,0.55],[1999.04,0.55],[1999.24,0.22],[1999.55,0],[1999.65,1.0],[1999.86,0.68],[2000.06,1.0],[2000.27,0.77],[2000.47,1.0],[2000.67,0.55],[2000.88,0.94],[2001.04,0.55],[2001.18,1.0],[2001.39,1.0],[2001.59,0.88],[2001.69,1.0],[2001.9,0.55],[2002.1,0.45],[2002.31,1.0],[2002.67,1.0],[2002.82,0.32],[2003.02,0.55],[2003.22,0.15],[2003.43,0],[2003.63,0.25],[2003.84,0],[2004.14,0.22],[2004.35,0],[2004.55,0.38],[2004.8,1.0],[2004.96,0.55],[2005.16,0.35],[2005.37,0],[2005.67,1.0],[2006.08,1.0],[2006.29,0.88],[2006.49,1.0],[2006.69,0.11],[2006.9,0.35],[2007.1,0.11],[2007.31,0],[2007.61,1.0],[2008.12,1.0],[2008.22,0.55],[2008.43,0.61],[2008.63,0.22],[2008.73,0.07],[2008.88,0.55],[2009.04,1.0],[2009.2,0.55],[2009.35,0.22],[2009.49,0.15]];

const aroonUp = [[1981.8,0],[1982.0,24],[1982.51,0],[1982.78,0],[1982.86,90],[1982.98,80],[1984.35,5],[1984.55,11],[1984.76,0],[1984.96,5],[1985.12,0],[1985.27,5],[1985.37,43],[1985.98,0],[1986.39,15],[1986.59,0],[1986.8,9],[1986.9,0],[1987.1,15],[1987.37,0],[1987.41,59],[1987.71,42],[1987.82,100],[1989.55,0],[1989.65,5],[1989.86,0],[1990.06,5],[1990.27,0],[1990.47,5],[1990.67,0],[1990.94,0],[1991.02,80],[1991.18,77],[1992.3,0],[1992.8,0],[1992.88,20],[1993.02,0],[1993.16,0],[1993.29,20],[1993.43,0],[1993.73,0],[1993.84,87],[1993.94,74],[1995.3,0],[1995.4,0],[1995.47,43],[1995.98,10],[1996.18,0],[1996.29,8],[1996.39,0],[1996.6,5],[1996.8,0],[1997.0,5],[1997.2,0],[1997.4,5],[1997.6,0],[1997.8,5],[1998.02,10],[1998.22,0],[1998.73,17],[1998.94,0],[1999.14,19],[1999.35,4],[1999.76,0],[1999.86,29],[2000.27,0],[2000.67,0],[2000.78,61],[2001.49,15],[2001.59,100],[2001.69,93],[2002.31,63],[2002.41,100],[2002.61,100],[2002.71,97],[2002.92,100],[2003.33,80],[2004.7,0],[2004.86,0],[2004.96,87],[2005.16,80],[2005.57,59],[2005.67,100],[2006.18,100],[2006.39,100],[2007.61,30],[2007.82,10],[2007.92,100],[2008.22,100],[2008.43,93],[2008.63,100],[2009.04,100],[2009.45,81]];
const aroonDown = [[1981.8,87],[1982.1,67],[1982.2,93],[1982.51,87],[1982.71,93],[1982.92,80],[1983.22,93],[1983.33,100],[1983.53,96],[1984.04,61],[1984.14,93],[1984.35,100],[1984.55,89],[1984.76,96],[1985.16,77],[1985.27,93],[1985.78,61],[1985.88,100],[1986.49,71],[1986.59,93],[1986.8,100],[1987.41,82],[1987.51,100],[1987.82,100],[1988.94,36],[1989.04,100],[1989.45,100],[1990.27,53],[1990.37,100],[1990.88,77],[1991.29,54],[1991.39,100],[1991.69,100],[1991.9,93],[1992.0,100],[1992.51,100],[1993.02,61],[1993.12,100],[1993.94,56],[1994.04,100],[1994.96,43],[1995.06,100],[1995.5,100],[1995.6,96],[1995.7,100],[1996.0,96],[1996.2,100],[1996.6,100],[1996.8,93],[1997.0,100],[1997.6,100],[1997.71,87],[1997.82,100],[1998.63,100],[1998.73,82],[1998.84,100],[1999.55,100],[2001.29,0],[2001.39,0],[2001.45,81],[2002.87,0],[2003.02,9],[2003.22,0],[2003.43,9],[2003.63,0],[2003.84,5],[2003.94,0],[2004.35,9],[2004.55,0],[2004.6,9],[2004.65,81],[2006.1,0],[2006.39,29],[2006.8,0],[2007.0,20],[2007.2,0],[2007.41,9],[2007.61,0],[2007.82,43],[2008.57,0],[2008.73,9],[2008.84,0],[2009.0,9],[2009.24,0],[2009.35,5],[2009.45,0]];

const mainLegend = ["$GOLD:$INDU (Monthly) 0.11","MA(20) 0.09","MA(40) 0.07","MA(50) 0.07","MA(100) 0.05","MA(200) 0.06","EMA(21) 0.09","EMA(34) 0.08","EMA(55) 0.07","EMA(89) 0.06","EMA(155) 0.07","EMA(233) 0.11","Volume undef"];
const fibLabels = ["0.0%","38.2%","50.0%","61.8%","100.0%"];
const fibRatios = [0,0.382,0.5,0.618,1];

// ---------------- LAYOUT ----------------
const svg = d3.select('#c');
const X0 = 13, X1 = 585, XR = 624;
const BG = '#f8f0c4';
const x = d3.scaleLinear().domain([1981, 2009]).range([25.5, 571.8]);
const fmtMinus = s => s.replace('\u2212','-');

svg.append('rect').attr('width',624).attr('height',1552).attr('fill','#fff');
const defs = svg.append('defs');
const pat = defs.append('pattern').attr('id','bgp').attr('width',4).attr('height',4).attr('patternUnits','userSpaceOnUse');
pat.append('rect').attr('width',4).attr('height',4).attr('fill','#faf4cf');
[[0,0],[2,2],[1,3],[3,1]].forEach(p=>pat.append('rect').attr('x',p[0]).attr('y',p[1]).attr('width',1).attr('height',1).attr('fill','#eee1a9'));

function T(parent, x0, y0, str, o = {}) {
  const t = parent.append('text').attr('x',0).attr('y',0).text(str)
    .attr('font-size', o.fs || 10).attr('fill', o.fill || '#000')
    .attr('font-weight', o.fw || 'normal');
  if (o.anchor) t.attr('text-anchor', o.anchor);
  let sx = 1;
  if (o.w) { const L = t.node().getComputedTextLength(); if (L > 0) sx = o.w / L; }
  t.attr('transform', `translate(${x0},${y0}) scale(${sx},1)`);
  return t;
}

function mkPanel(name, top, bot, dom, rng, ticks, fmt) {
  const y = d3.scaleLinear().domain(dom).range(rng);
  const g = svg.append('g');
  g.append('rect').attr('x',X0).attr('y',top).attr('width',X1-X0).attr('height',bot-top).attr('fill','url(#bgp)');
  // vertical grid
  yearTicks.forEach((yr,i) => {
    g.append('line').attr('x1',x(yr)).attr('x2',x(yr)).attr('y1',top).attr('y2',bot)
      .attr('stroke', i % 2 === 1 ? '#cfc393' : '#e0d5a4').attr('stroke-width',1)
      .attr('stroke-dasharray', i % 2 === 1 ? null : '1,1');
  });
  // horizontal grid + labels
  ticks.forEach(v => {
    const yy = y(v);
    g.append('line').attr('x1',X0).attr('x2',X1).attr('y1',yy).attr('y2',yy)
      .attr('stroke','#ddd1a0').attr('stroke-dasharray','1,1');
    T(g, 587, yy + 3.5, fmtMinus(fmt(v)), {fs: 10});
  });
  g.append('rect').attr('x',X0).attr('y',top).attr('width',X1-X0).attr('height',bot-top)
    .attr('fill','none').attr('stroke','#8a8a8a').attr('stroke-width',1);
  const cid = 'clip_' + name;
  defs.append('clipPath').attr('id',cid).append('rect').attr('x',X0).attr('y',top).attr('width',X1-X0).attr('height',bot-top);
  const data = svg.append('g').attr('clip-path',`url(#${cid})`);
  return {g, data, y, top, bot};
}

function hline(p, v, color, w, dash, full) {
  p.g.append('line').attr('x1',X0).attr('x2', full ? XR : X1).attr('y1',p.y(v)).attr('y2',p.y(v))
    .attr('stroke',color).attr('stroke-width',w).attr('stroke-dasharray',dash || null);
}
function fib(p, zeroV, hundV) {
  fibRatios.forEach((r,i) => {
    const v = zeroV + (hundV - zeroV) * r;
    const yy = p.y(v);
    svg.append('line').attr('x1',X0).attr('x2',XR).attr('y1',yy).attr('y2',yy).attr('stroke','#000').attr('stroke-width',1);
    T(svg, 623, yy - 3, fibLabels[i], {fs: 9.5, fill:'#8c8c8c', anchor:'end'});
  });
}
function line(p, data, color, w, curve) {
  p.data.append('path').datum(data)
    .attr('d', d3.line().x(d=>x(d[0])).y(d=>p.y(d[1])).curve(curve || d3.curveLinear))
    .attr('fill','none').attr('stroke',color).attr('stroke-width',w).attr('stroke-linejoin','round');
}
let fillId = 0;
function fillBeyond(p, data, level, above, color) {
  const cid = 'fc' + (fillId++);
  const yl = p.y(level);
  defs.append('clipPath').attr('id',cid).append('rect').attr('x',X0)
    .attr('y', above ? p.top : yl).attr('width',X1-X0).attr('height', above ? yl - p.top : p.bot - yl);
  p.data.append('path').datum(data)
    .attr('d', d3.area().x(d=>x(d[0])).y0(yl).y1(d=>p.y(d[1])))
    .attr('fill',color).attr('clip-path',`url(#${cid})`);
}
function legend(p, y0, parts, icon) {
  const g = svg.append('g');
  if (icon === 'dash') g.append('rect').attr('x',15).attr('y',y0-4).attr('width',6).attr('height',2).attr('fill','#000');
  else if (icon) g.append('path').attr('d',`M15,${y0+1} L17.5,${y0-7} L20,${y0+1} Z`).attr('fill',icon);
  const t = g.append('text').attr('x',23).attr('y',y0).attr('font-size',10);
  parts.forEach(pt => t.append('tspan').text(pt[0]).attr('fill',pt[1]));
}
function axisRow(yy) {
  yearTicks.forEach((yr,i) => T(svg, x(yr), yy, yearLabels[i], {fs:10, anchor:'middle'}));
}
function callout(bx, by, bw, bh, lines, color, ptrs) {
  const g = svg.append('g');
  ptrs.forEach(pp => {
    const dx = pp[2]-pp[0], dy = pp[3]-pp[1], L = Math.hypot(dx,dy), w = pp[4] || 4;
    const nx = -dy/L*w, ny = dx/L*w;
    const pts = [[pp[0]+nx,pp[1]+ny],[pp[2],pp[3]],[pp[0]-nx,pp[1]-ny]];
    g.append('polygon').attr('points', pts.map(q=>[q[0]+1.5,q[1]+1.5].join(',')).join(' ')).attr('fill','#9a9a9a');
    g.append('polygon').attr('points', pts.map(q=>q.join(',')).join(' ')).attr('fill','#fff').attr('stroke','#7a7a7a').attr('stroke-width',0.8);
  });
  g.append('rect').attr('x',bx+2).attr('y',by+2).attr('width',bw).attr('height',bh).attr('fill','#8a8a8a');
  g.append('rect').attr('x',bx).attr('y',by).attr('width',bw).attr('height',bh).attr('fill','#fff').attr('stroke','#7a7a7a').attr('stroke-width',0.8);
  const lh = (bh - 2) / lines.length;
  lines.forEach((s,i) => T(g, bx+3, by + 1 + lh*(i+0.5) + 4, s, {fs:11, fw:'bold', fill:color, w: bw-6}));
}

// ---------------- HEADER ----------------
T(svg, 2, 16, '$GOLD:$INDU', {fs:16, fw:'bold', w:80});
T(svg, 84, 15, '(Gold - Continuous Contract (EOD)/Dow Jones Industrial Average) INDX/INDX', {fs:11, w:300});
T(svg, 513, 15, '\u00A9StockCharts.com', {fs:11, w:71, fill:'#222'});
T(svg, 2, 28, '22-Jun-2009', {fs:11, w:58});
{
  const t = svg.append('text').attr('x',0).attr('y',0).attr('font-size',11);
  [['Open',1],[' 0.12 ',0],['High',1],[' 0.12 ',0],['Low',1],[' 0.11 ',0],['Close',1],[' 0.11 ',0],['Chg',1],[' -0.00 (-3.94%)',0]]
    .forEach(p => t.append('tspan').text(p[0]).attr('font-weight', p[1] ? 'bold' : 'normal'));
  const L = t.node().getComputedTextLength();
  t.attr('transform', `translate(320,28) scale(${257/L},1)`);
  svg.append('path').attr('d','M580,23 L586,23 L583,27 Z').attr('fill','#cc0000');
}

// ---------------- PANELS ----------------
const f0 = d3.format('d'), f2 = d3.format('.2f'), f3 = d3.format('.3f'), f1 = d3.format('.1f');
const P = {};
P.rsi  = mkPanel('rsi', 30, 138, [10,90], [127.7,46.7], [10,30,50,70,90], f0);
P.main = mkPanel('main', 138, 476, [0.05,0.75], [457.7,150], d3.range(1,16).map(i=>i*0.05), f2);
P.macd = mkPanel('macd', 490, 606, [-0.1,0.025], [589,506.7], [0.025,0,-0.025,-0.05,-0.075,-0.1], f3);
P.roc  = mkPanel('roc', 606, 721, [-25,75], [701.7,621.7], [75,50,25,0,-25], f0);
P.sto1 = mkPanel('sto1', 721, 837, [20,80], [811.7,750], [80,50,20], f0);
P.sto2 = mkPanel('sto2', 837, 953, [20,80], [927.7,866.7], [80,50,20], f0);
P.sto3 = mkPanel('sto3', 953, 1069, [20,80], [1044,982.7], [80,50,20], f0);
P.bb   = mkPanel('bb', 1069, 1185, [0,0.4], [1181,1085], [0.4,0.3,0.2,0.1,0], f1);
P.adx  = mkPanel('adx', 1185, 1296, [10,60], [1291.7,1205], [60,50,40,30,20,10], f0);
P.srsi = mkPanel('srsi', 1296, 1418, [0,1], [1412.3,1310.7], [1,0.8,0.5,0.2,0], f1);
P.aroon= mkPanel('aroon', 1418, 1536, [10,90], [1518,1436.7], [90,70,50,30,10], f0);

axisRow(484);
axisRow(1546);

// RSI
hline(P.rsi, 70, '#2a2ad0', 1);
hline(P.rsi, 30, '#2a2ad0', 1);
hline(P.rsi, 50, '#2a2ad0', 1.2, '6,2');
fillBeyond(P.rsi, rsi13, 70, true, '#000');
fillBeyond(P.rsi, rsi13, 30, false, '#000');
line(P.rsi, rsi13, '#4038a8', 1);
fib(P.rsi, 83.5, 13.65);
legend(P.rsi, 38, [['RSI(13) 62.50','#000']], '#000');
// channel lines
[[2001.45,67,2010.9,105],[2006.0,49,2010.9,74],[1998.0,13.5,2010.9,50]].forEach(c => {
  svg.append('line').attr('x1',x(c[0])).attr('y1',P.rsi.y(c[1])).attr('x2',x(c[2])).attr('y2',P.rsi.y(c[3]))
    .attr('stroke','#111').attr('stroke-width',2).attr('stroke-dasharray','4,2');
});

// MAIN
const maSeries = [[ma20,'#000080'],[ma40,'#ff0000'],[ma50,'#006400'],[ma100,'#ff00ff'],[ma200,'#9933ff'],[ema21,'#ff5a1f'],[ema34,'#a0522d'],[ema55,'#e0a020'],[ema89,'#8a8a9a'],[ema155,'#000000'],[ema233,'#00008b']];
maSeries.forEach(m => line(P.main, m[0], m[1], 1, d3.curveMonotoneX));
line(P.main, price, '#000', 2);
fib(P.main, 0.022, 0.674);
{
  const cols = ['#000','#000080','#ff0000','#006400','#ff00ff','#9933ff','#ff5a1f','#a0522d','#e0a020','#8a8a9a','#000','#00008b','#3b6fd0'];
  mainLegend.forEach((s,i) => {
    const yy = 156 + i*11;
    if (i < 12) svg.append('rect').attr('x',15).attr('y',yy-4.5).attr('width',6).attr('height',2).attr('fill',cols[i]);
    else { [0,2,4].forEach((k,j)=>svg.append('rect').attr('x',15+k).attr('y',yy-3-j*1.5).attr('width',1.5).attr('height',3+j*1.5).attr('fill','#a0a0a0')); }
    T(svg, 23, yy, s, {fs:10, fill: cols[i]});
  });
}

// MACD
{
  const p = P.macd;
  p.data.selectAll('rect.h').data(macdHist).enter().append('rect')
    .attr('x', d => x(d[0]) - 1).attr('width', 2)
    .attr('y', d => Math.min(p.y(0), p.y(d[1]))).attr('height', d => Math.max(0.8, Math.abs(p.y(d[1]) - p.y(0))))
    .attr('fill','#9890b0');
  line(p, macdSignal, '#3030d0', 1);
  line(p, macdLine, '#000', 1.5);
  fib(p, -0.118, 0.0387);
  legend(p, 503, [['MACD(5,34,5) 0.031, ','#000'],['0.032','#2020c0'],[', -0.001','#8a8aa0']], 'dash');
}
// ROC
hline(P.roc, 0, '#000', 1, '6,2,1,2');
line(P.roc, roc13, '#000', 1.3);
fib(P.roc, 85.5, -40.75);
legend(P.roc, 619, [['ROC(13) 56.89%','#000']], 'dash');

// STO panels
function stoPanel(p, K, D, hi, lo, lbl) {
  hline(p, 80, '#006400', 1); hline(p, 20, '#006400', 1); hline(p, 50, '#006400', 1, '6,2,1,2');
  hline(p, hi, '#000', 2, '3,2'); hline(p, lo, '#000', 2, '3,2');
  line(p, D, '#ff0000', 1);
  line(p, K, '#000', 1.5);
  legend(p, p.top + 14, lbl, 'dash');
}
stoPanel(P.sto1, sto1K, sto1D, 98.5, 0.6, [['Full STO %K(13,3) %D(5) 58.88, ','#000'],['71.92','#ff0000']]);
stoPanel(P.sto2, sto2K, sto2D, 95.6, 1.3, [['Full STO %K(21,8) %D(13) 81.19, ','#000'],['79.42','#ff0000']]);
stoPanel(P.sto3, sto3K, sto3D, 85.8, 1.7, [['Full STO %K(34,13) %D(21) 80.38, ','#000'],['72.60','#ff0000']]);

// BB width
line(P.bb, bbWidth, '#000', 1.5);
fib(P.bb, 0.403, 0.004);
hline(P.bb, 0.067, '#000', 1);
legend(P.bb, 1082, [['BB(21,2.1) Width 0.091','#000']], 'dash');

// ADX
line(P.adx, minusDI, '#ff1a1a', 1);
line(P.adx, plusDI, '#1b6b1b', 1);
line(P.adx, adx13, '#000', 1.8);
fib(P.adx, 58.1, 8.66);
legend(P.adx, 1197, [['ADX(13) 41.41 ','#000'],['+DI 38.92 ','#1b6b1b'],['-DI 17.58','#ff1a1a']], 'dash');

// StochRSI
fillBeyond(P.srsi, stochRsi, 0.8, true, '#9088d8');
fillBeyond(P.srsi, stochRsi, 0.2, false, '#9088d8');
hline(P.srsi, 0.8, '#7a1a7a', 1); hline(P.srsi, 0.2, '#7a1a7a', 1); hline(P.srsi, 0.5, '#7a1a7a', 1, '6,2,1,2');
line(P.srsi, stochRsi, '#6a5ab8', 1);
legend(P.srsi, 1314, [['StochRSI(13) 0.148','#000']], '#8a7ad0');

// Aroon
hline(P.aroon, 70, '#006400', 1); hline(P.aroon, 30, '#006400', 1); hline(P.aroon, 50, '#006400', 1, '6,2,1,2');
line(P.aroon, aroonDown, '#cc0033', 1.2);
line(P.aroon, aroonUp, '#1b6b1b', 1.2);
legend(P.aroon, 1430, [['AROON(21) Up 81.0 ','#000'],['Down 0.0','#cc0033']], 'dash');

// ---------------- ANNOTATIONS ----------------
callout(103, 218, 54, 14, ['Swing Line'], '#f4a080', [[104,225,80,217.5,2]]);
callout(300, 381, 160, 16, ['Significant Fibonacci MA Resistance'], '#000066', [[302,388,78,277,5],[458,389,565,428,3]]);
callout(455, 320, 95, 14, ['Fibonacci Resistance'], '#000', [[548,327,580,301,4],[548,327,580,358,4]]);
callout(541, 456, 28, 13, ['Test?'], '#000066', [[563,458,578,437,3]]);
callout(471, 75, 38, 12, ['Channel'], '#000', [[507,80,585,72,3]]);
callout(489, 107, 84, 13, ['Channel Supports'], '#000', [[571,109,579,97,3]]);
callout(500, 580, 61, 12, ['Fib Supports'], '#000', [[559,584,581,540,4],[559,587,579,617,4]]);
callout(255, 1107, 179, 20, ['Decades of price fixing should result in','an equal and opposite counter-move.'], '#000', [[257,1115,52,1085,4],[432,1115,577,1088,4]]);
</script></body></html>
